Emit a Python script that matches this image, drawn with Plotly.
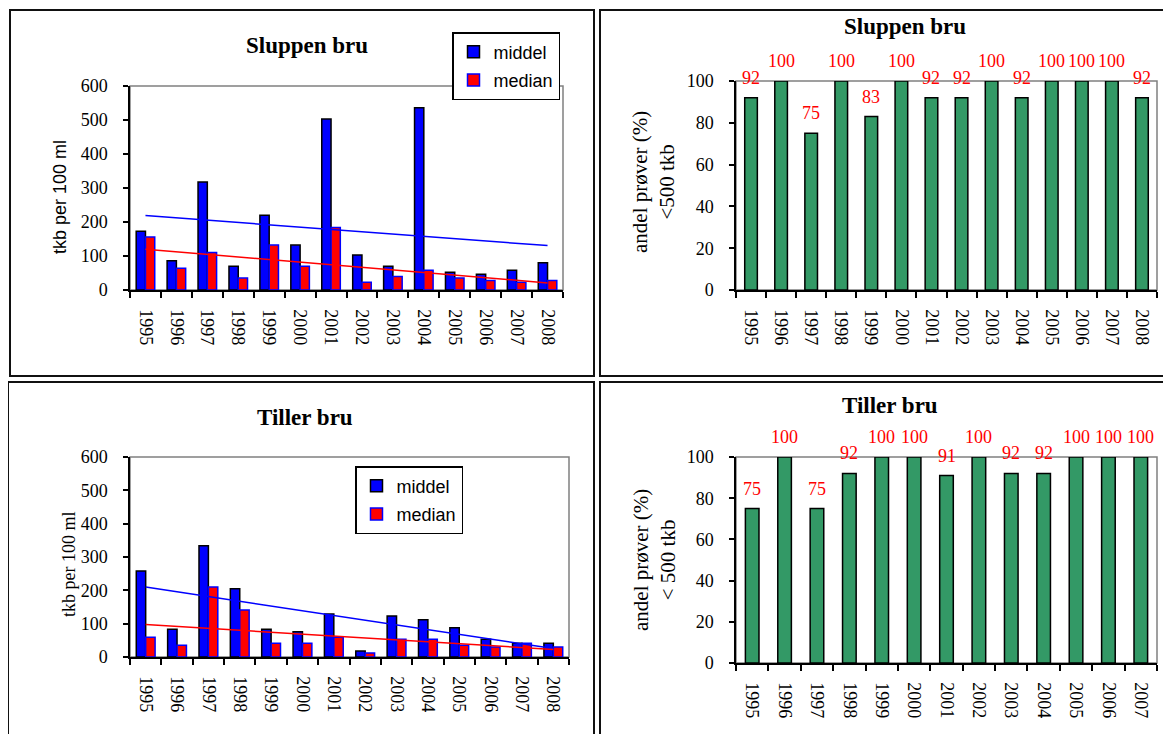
import numpy as np
import plotly.graph_objects as go

# data
years = [str(y) for y in range(1995, 2009)]
years_tiller_andel = [str(y) for y in range(1995, 2008)]

sluppen_middel = [173, 86, 318, 70, 220, 132, 503, 103, 70, 536, 52, 46, 58, 80]
sluppen_median = [156, 64, 110, 35, 132, 70, 184, 23, 40, 58, 35, 28, 23, 28]
tiller_middel = [258, 83, 334, 205, 83, 76, 129, 18, 123, 112, 88, 53, 41, 41]
tiller_median = [59, 35, 210, 141, 41, 41, 59, 12, 53, 53, 35, 30, 41, 30]

sluppen_andel = [92, 100, 75, 100, 83, 100, 92, 92, 100, 92, 100, 100, 100, 92]
tiller_andel = [75, 100, 75, 92, 100, 100, 91, 100, 92, 92, 100, 100, 100]

# the page body keeps an 8px margin, so the figure is a little smaller than the window
PAD = 8
W, H = 1171 - 2 * PAD, 742 - 2 * PAD
SERIF = "Liberation Serif, Times New Roman, serif"
SANS = "Liberation Sans, Arial, sans-serif"
BLUE = "#0000FF"
RED = "#FF0000"
GREEN = "#339966"


def fx(v):
    # window pixel -> paper fraction
    return (v - PAD) / W


def fy(v):
    return 1 - (v - PAD) / H


def trend(values):
    # linear trendline like Excel's
    xs = np.arange(len(values))
    k, m = np.polyfit(xs, values, 1)
    return list(k * xs + m)


fig = go.Figure()

# --- left panels: middel / median bars with trendlines
for ax, middel, median, leg in [
    ("", sluppen_middel, sluppen_median, "legend"),
    ("3", tiller_middel, tiller_median, "legend2"),
]:
    xa, ya = "x" + ax, "y" + ax
    fig.add_trace(go.Bar(
        x=years, y=middel, name="middel", xaxis=xa, yaxis=ya, legend=leg,
        legendgroup="middel" + ax,
        marker=dict(color=BLUE, line=dict(color="black", width=1.5)),
    ))
    fig.add_trace(go.Bar(
        x=years, y=median, name="median", xaxis=xa, yaxis=ya, legend=leg,
        legendgroup="median" + ax,
        marker=dict(color=RED, line=dict(color=BLUE, width=1.5)),
    ))
    fig.add_trace(go.Scatter(
        x=years, y=trend(middel), mode="lines", xaxis=xa, yaxis=ya,
        line=dict(color=BLUE, width=1.5), showlegend=False,
    ))
    fig.add_trace(go.Scatter(
        x=years, y=trend(median), mode="lines", xaxis=xa, yaxis=ya,
        line=dict(color=RED, width=1.5), showlegend=False,
    ))

# --- right panels: share of samples < 500 tkb
annotations = []
for ax, cats, vals in [("2", years, sluppen_andel), ("4", years_tiller_andel, tiller_andel)]:
    fig.add_trace(go.Bar(
        x=cats, y=vals, xaxis="x" + ax, yaxis="y" + ax, showlegend=False,
        marker=dict(color=GREEN, line=dict(color="black", width=1.5)),
        width=0.42,
    ))
    # category axes take the serial number of the category for annotations
    for i, v in enumerate(vals):
        annotations.append(dict(
            x=i, y=v, xref="x" + ax, yref="y" + ax, text=str(v), showarrow=False,
            xanchor="center", yanchor="bottom", yshift=8,
            font=dict(family=SERIF, size=18, color=RED),
        ))

# titles and axis titles
for txt, x, y in [
    ("<b>Sluppen bru</b>", 307, 45),
    ("<b>Sluppen bru</b>", 905, 27),
    ("<b>Tiller bru</b>", 305, 417),
    ("<b>Tiller bru</b>", 890, 405),
]:
    annotations.append(dict(x=fx(x), y=fy(y), xref="paper", yref="paper", text=txt,
                            xanchor="center", yanchor="middle", showarrow=False,
                            font=dict(family=SERIF, size=23, color="black")))

for txt, x, y, size, fam in [
    ("tkb per 100 ml", 60, 197, 18, SANS),
    ("tkb per 100 ml", 69, 564, 18, SERIF),
    ("andel prøver (%)<br><500 tkb", 654, 182, 21, SERIF),
    ("andel prøver (%)<br>< 500 tkb", 654, 560, 21, SERIF),
]:
    annotations.append(dict(x=fx(x), y=fy(y), xref="paper", yref="paper", text=txt,
                            textangle=-90, showarrow=False,
                            xanchor="center", yanchor="middle",
                            font=dict(family=fam, size=size, color="black")))

# panel frames and plot-area borders
shapes = []
for x0, y0, x1, y1 in [(10, 10, 594, 376), (600, 10, 1190, 376),
                       (8, 382, 594, 770), (600, 382, 1190, 770)]:
    shapes.append(dict(type="rect", xref="paper", yref="paper",
                       x0=fx(x0), x1=fx(x1), y0=fy(y1), y1=fy(y0),
                       line=dict(color="#111111", width=2)))
for ax in ["", "2", "3", "4"]:
    shapes.append(dict(type="rect", xref="x" + ax + " domain", yref="y" + ax + " domain",
                       x0=0, x1=1, y0=0, y1=1, layer="below",
                       line=dict(color="#808080", width=1.5)))

tickfont = dict(family=SERIF, size=18, color="black")
xcommon = dict(type="category", tickangle=90, tickfont=tickfont, showline=True,
               linecolor="black", linewidth=1.5, ticks="outside", tickson="boundaries",
               ticklen=6, tickcolor="black", tickwidth=1.5, ticklabelstandoff=14,
               showgrid=False, automargin=False)
ycommon = dict(tickfont=tickfont, showline=True, linecolor="black", linewidth=1.5,
               ticks="outside", ticklen=5, tickcolor="black", tickwidth=1.5,
               ticklabelstandoff=12, showgrid=False, zeroline=False, automargin=False)
legcommon = dict(xanchor="left", yanchor="top", bgcolor="white", bordercolor="black",
                 borderwidth=1.5, font=dict(family=SANS, size=18, color="black"),
                 itemwidth=30, tracegroupgap=2)

fig.update_layout(
    width=W, height=H,
    margin=dict(l=0, r=0, t=0, b=0, autoexpand=False),
    paper_bgcolor="white", plot_bgcolor="white",
    barmode="group", bargap=0.4, bargroupgap=0,
    xaxis=dict(xcommon, domain=[fx(130), fx(563)], anchor="y", range=[-0.5, len(years) - 0.5]),
    yaxis=dict(ycommon, domain=[fy(290), fy(86)], range=[0, 600], dtick=100, anchor="x"),
    xaxis2=dict(xcommon, domain=[fx(736), fx(1157)], anchor="y2", range=[-0.5, len(years) - 0.5]),
    yaxis2=dict(ycommon, domain=[fy(290), fy(81)], range=[0, 100], dtick=20, anchor="x2"),
    xaxis3=dict(xcommon, domain=[fx(130), fx(569)], anchor="y3", range=[-0.5, len(years) - 0.5]),
    yaxis3=dict(ycommon, domain=[fy(657), fy(457)], range=[0, 600], dtick=100, anchor="x3"),
    xaxis4=dict(xcommon, domain=[fx(736), fx(1157)], anchor="y4",
                range=[-0.5, len(years_tiller_andel) - 0.5]),
    yaxis4=dict(ycommon, domain=[fy(663), fy(457)], range=[0, 100], dtick=20, anchor="x4"),
    legend=dict(legcommon, x=fx(452), y=fy(32)),
    legend2=dict(legcommon, x=fx(355), y=fy(466)),
    annotations=annotations,
    shapes=shapes,
    showlegend=True,
)

fig.write_html("out.html")
